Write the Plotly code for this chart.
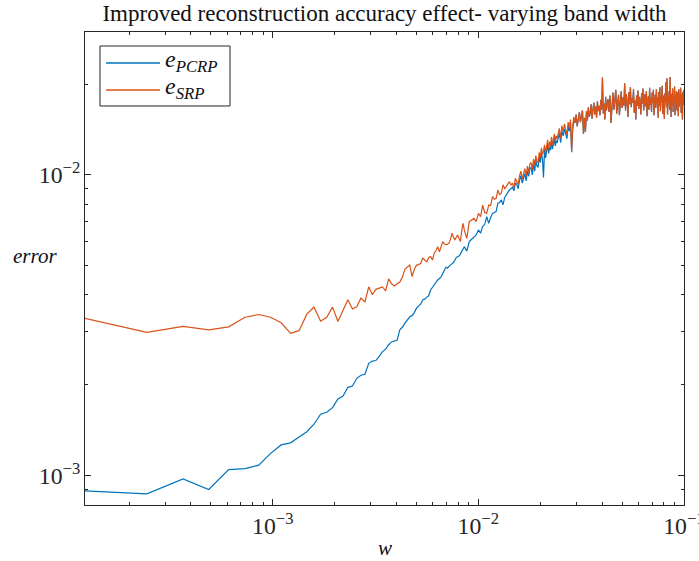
import plotly.graph_objects as go

# sample index k, band width w = k * dw
dw = 1.0 / 8192
k_head = list(range(1, 70))
k_mid = list(range(70, 120, 2))
k_mid2 = list(range(120, 200, 2))
k_sep = list(range(200, 242, 3))
k_tail = list(range(242, 350, 3)) + list(range(350, 819, 4))

# values in units of 1e-3
srp_head = [3.33, 2.99, 3.13, 3.05, 3.12, 3.36, 3.43, 3.36, 3.22, 2.97,
            3.03, 3.44, 3.63, 3.26, 3.36, 3.63, 3.25, 3.55, 3.84, 3.58,
            3.64, 3.89, 3.77, 4.24, 3.99, 4.16, 4.20, 4.24, 4.11, 4.51,
            4.34, 4.27, 4.34, 4.40, 4.57, 4.85, 4.94, 5.01, 4.59, 4.85,
            5.01, 5.03, 5.08, 5.30, 5.20, 5.14, 5.30, 5.35, 5.21, 5.49,
            5.60, 5.77, 5.55, 5.80, 6.00, 5.90, 5.85, 5.88, 5.93, 6.10,
            6.40, 6.20, 6.08, 6.20, 6.31, 6.15, 6.00, 6.50, 6.90]
pcrp_head = [0.887, 0.867, 0.973, 0.897, 1.044, 1.052, 1.081, 1.183, 1.262, 1.282,
             1.34, 1.396, 1.479, 1.596, 1.621, 1.679, 1.794, 1.836, 1.963, 1.982,
             2.103, 2.153, 2.169, 2.36, 2.40, 2.41, 2.49, 2.58, 2.63, 2.72,
             2.78, 2.80, 2.82, 3.05, 3.11, 3.21, 3.30, 3.37, 3.40, 3.48,
             3.60, 3.66, 3.72, 3.84, 3.86, 3.92, 3.96, 4.14, 4.23, 4.28,
             4.38, 4.47, 4.52, 4.58, 4.70, 4.82, 4.93, 4.90, 4.98, 5.02,
             5.06, 5.11, 5.20, 5.31, 5.34, 5.37, 5.45, 5.55, 5.62]

srp_mid = [6.56, 6.15, 6.99, 7.10, 7.17, 6.99, 7.45, 7.26, 7.94, 7.50,
           7.45, 7.94, 7.90, 8.47, 8.30, 8.36, 8.91, 8.60, 8.69, 9.27,
           9.00, 9.14, 9.30, 9.50, 9.25]
pcrp_mid = [5.77, 5.58, 6.00, 6.11, 6.20, 6.31, 6.56, 6.40, 6.73, 6.85,
            7.26, 6.90, 7.20, 7.45, 7.50, 7.55, 8.05, 8.10, 8.26, 7.95,
            8.40, 8.58, 8.75, 8.91, 9.00]

srp_mid2 = [9.40, 9.05, 9.75, 9.50, 9.30, 9.95, 10.3, 9.70, 10.1, 10.5,
            9.90, 10.7, 10.2, 10.9, 11.0, 10.4, 11.3, 10.8, 11.6, 11.1,
            11.0, 11.9, 11.4, 12.3, 11.7, 12.0, 12.6, 11.8, 12.4, 13.1,
            12.2, 12.9, 12.5, 13.4, 12.6, 13.0, 13.7, 12.9, 13.5, 13.2]
pcrp_mid2 = [9.10, 8.85, 9.40, 9.30, 9.00, 9.60, 9.95, 9.40, 9.80, 10.1,
             9.55, 10.3, 9.90, 10.5, 10.6, 10.0, 10.9, 10.3, 11.2, 10.7,
             10.6, 11.5, 11.0, 11.8, 11.3, 9.80, 12.1, 11.4, 12.0, 12.6,
             11.8, 12.4, 12.1, 12.9, 12.2, 12.6, 13.2, 12.5, 13.0, 12.8]

srp_sep = [13.8, 14.3, 13.2, 14.6, 13.9, 14.8, 14.1, 13.6, 15.0, 14.4,
           15.3, 12.0, 14.7, 15.6]
pcrp_sep = [13.2, 13.8, 12.8, 14.0, 13.5, 14.2, 13.7, 13.2, 14.5, 14.0,
            14.9, 11.9, 14.3, 15.2]

# both errors coincide at large w
both_tail = [14.9, 15.9, 14.5, 15.4, 16.2, 15.0, 15.8, 16.4, 13.7, 15.5,
             13.9, 16.3, 15.2, 16.8, 15.6, 16.1, 17.2, 15.4, 16.6, 17.4,
             15.9, 16.9, 15.5, 17.6, 16.3, 17.0, 15.8, 17.8, 16.5, 21.1,
             16.0, 17.3, 15.3, 18.2, 16.4, 17.6,
             17.9, 16.2, 18.4, 14.9, 17.1, 18.8, 16.5, 17.6, 19.2, 16.0,
             17.8, 18.5, 15.8, 17.3, 19.0, 16.7, 18.1, 17.0, 20.2, 16.4,
             18.6, 17.5, 15.6, 18.9, 17.2, 19.6, 16.8, 18.0, 17.4, 19.3,
             16.1, 17.7, 15.3, 18.4, 17.0, 19.1, 16.6, 18.2, 17.5, 15.9,
             18.7, 17.3, 19.4, 16.4, 17.9, 18.6, 16.9, 19.0, 15.7, 17.8,
             18.3, 16.5, 19.5, 17.1, 18.0, 16.2, 18.8, 17.4, 19.2, 15.8,
             17.6, 18.5, 16.7, 19.3, 17.2, 18.1, 15.5, 18.9, 17.0, 19.6,
             16.3, 18.2, 17.5, 19.8, 16.0, 18.4, 17.3, 15.4, 18.7, 17.6,
             20.4, 16.8, 21.0, 15.9, 18.3, 17.4, 19.0, 16.5, 21.2, 17.8,
             15.6, 18.6, 17.1, 19.4, 16.2, 18.0, 17.5, 19.7, 15.8, 18.4,
             17.0, 19.0, 16.4, 18.8, 17.7, 15.7, 19.3, 16.9, 18.2, 17.3,
             19.5, 16.1, 18.6, 17.4, 15.3, 18.9, 17.1, 19.2]

k_all = k_head + k_mid + k_mid2 + k_sep + k_tail
srp = srp_head + srp_mid + srp_mid2 + srp_sep + both_tail
pcrp = pcrp_head + pcrp_mid + pcrp_mid2 + pcrp_sep + both_tail
assert len(k_all) == len(srp) == len(pcrp), (len(k_all), len(srp), len(pcrp))

w = [k * dw for k in k_all]
e_srp = [v * 1e-3 for v in srp]
e_pcrp = [v * 1e-3 for v in pcrp]

names = ["<i>e</i><sub><i>PCRP</i></sub>", "<i>e</i><sub><i>SRP</i></sub>"]
colors = ["#0072BD", "#D95319"]

FONT = "Liberation Serif"
AX = "#262626"
TXT = "#111111"

fig = go.Figure()
fig.add_trace(go.Scatter(x=w, y=e_pcrp, mode="lines",
                         line=dict(color=colors[0], width=1.2),
                         name=names[0], showlegend=False))
fig.add_trace(go.Scatter(x=w, y=e_srp, mode="lines",
                         line=dict(color=colors[1], width=1.2),
                         name=names[1], showlegend=False))

axis_common = dict(type="log", dtick=1, exponentformat="power",
                   showgrid=False, zeroline=False, showline=True,
                   linecolor=AX, linewidth=1, mirror="allticks",
                   ticks="inside", ticklen=6, tickcolor=AX, tickwidth=1,
                   ticklabeloverflow="allow", automargin=False,
                   tickfont=dict(family=FONT, size=19, color=AX),
                   minor=dict(ticks="inside", ticklen=3, tickcolor=AX,
                              tickwidth=1, showgrid=False))

# manual legend box (paper coordinates)
shapes = [dict(type="rect", xref="paper", yref="paper",
               x0=0.025, x1=0.2421, y0=0.8436, y1=0.9704,
               line=dict(color=AX, width=1), fillcolor="white", layer="above")]
leg_rows = [0.9345, 0.8774]
annotations = []
for nm, col, yy in zip(names, colors, leg_rows):
    shapes.append(dict(type="line", xref="paper", yref="paper",
                       x0=0.0351, x1=0.1252, y0=yy, y1=yy,
                       line=dict(color=col, width=1.5), layer="above"))
    annotations.append(dict(text=nm, xref="paper", yref="paper",
                            x=0.1302, y=yy + 0.004, xanchor="left", yanchor="middle",
                            showarrow=False,
                            font=dict(family=FONT, size=24, color=TXT)))

annotations += [
    dict(text="<i>w</i>", xref="paper", yref="paper", x=0.5, y=-0.091,
         showarrow=False, font=dict(family=FONT, size=21, color=TXT),
         xanchor="center", yanchor="middle"),
    dict(text="<i>error</i>", xref="paper", yref="paper", x=-0.0835, y=0.526,
         showarrow=False, font=dict(family=FONT, size=21, color=TXT),
         xanchor="center", yanchor="middle"),
]

fig.update_layout(
    width=699, height=561,
    margin=dict(l=85, r=15, t=32, b=56, autoexpand=False),
    paper_bgcolor="white", plot_bgcolor="white",
    font=dict(family=FONT, color=AX),
    title=dict(text="Improved reconstruction accuracy effect- varying band width",
               x=0.5, xref="paper", y=1 - 13 / 561, yanchor="middle",
               font=dict(family=FONT, size=23, color=TXT)),
    xaxis=dict(range=[-3.9133, -0.9995], **axis_common),
    yaxis=dict(range=[-3.099, -1.524], **axis_common),
    showlegend=False,
    shapes=shapes,
    annotations=annotations,
)

fig.write_html("out.html")
